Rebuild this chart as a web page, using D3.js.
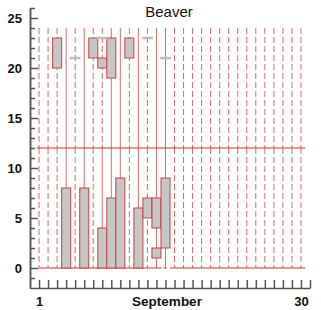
<!doctype html>
<html>
<head>
<meta charset="utf-8">
<script src="https://d3js.org/d3.v7.min.js"></script>
<style>
  body { margin: 0; background: #fff; }
  text { font-family: "Liberation Sans", Arial, sans-serif; }
</style>
</head>
<body>
<svg width="321" height="310"></svg>
<script>
// days of the month
var days = d3.range(1, 31);

// filled boxes: day, low, high
var boxDay  = [3, 7, 8, 9, 11, 4, 6, 8, 9, 10, 12, 13, 14, 14, 15];
var boxLow  = [20, 21, 20, 19, 21, 0, 0, 0, 0, 0, 0, 5, 4, 1, 2];
var boxHigh = [23, 23, 21, 23, 23, 8, 8, 4, 7, 9, 6, 7, 7, 2, 9];

// flat grey marks: day, value
var flatDay   = [5, 8, 13, 15];
var flatValue = [21, 23, 23, 21];

// days whose guide line is solid (upper half / lower half)
var solidUpper = [4, 6, 9, 10, 12, 14, 15];
var solidLower = [4, 6, 8, 9, 10, 12, 14, 15];

var lineTop = 24, noon = 12;
var yMajor = [0, 5, 10, 15, 20, 25];
var xLabels = [1, 30];

var svg = d3.select("svg");
var x = d3.scaleLinear().domain([0, 31]).range([30, 310]);
var y = d3.scaleLinear().domain([-2, 26]).range([288, 8]);

var red = "#cc3a3a";

// vertical guide lines, split at noon
var g = svg.append("g");
[[noon, lineTop, solidUpper], [0, noon, solidLower]].forEach(function(part) {
  g.selectAll(null).data(days).enter().append("line")
    .attr("x1", d => x(d)).attr("x2", d => x(d))
    .attr("y1", y(part[1])).attr("y2", y(part[0]))
    .attr("stroke", red).attr("stroke-opacity", 0.75)
    .attr("stroke-width", 1)
    .attr("stroke-dasharray", d => part[2].indexOf(d) >= 0 ? null : "6,3");
});

// horizontal reference lines
svg.append("line")
  .attr("x1", x(0.75)).attr("x2", x(30.45))
  .attr("y1", y(noon)).attr("y2", y(noon))
  .attr("stroke", red).attr("stroke-opacity", 0.7).attr("stroke-width", 1.5);

var baseSeg = [[0.95, 14.58], [14.76, 15.14], [15.5, 30.45]];
svg.selectAll(null).data(baseSeg).enter().append("line")
  .attr("x1", d => x(d[0])).attr("x2", d => x(d[1]))
  .attr("y1", y(0)).attr("y2", y(0))
  .attr("stroke", red).attr("stroke-opacity", 0.7).attr("stroke-width", 1.5);

// boxes
svg.selectAll(null).data(boxDay).enter().append("rect")
  .attr("x", d => x(d - 0.5))
  .attr("width", x(1) - x(0))
  .attr("y", (d, i) => y(boxHigh[i]))
  .attr("height", (d, i) => y(boxLow[i]) - y(boxHigh[i]))
  .attr("fill", "#c6c6c6")
  .attr("stroke", red).attr("stroke-opacity", 0.8).attr("stroke-width", 1.2);

// flat marks
svg.selectAll(null).data(flatDay).enter().append("line")
  .attr("x1", d => x(d - 0.6)).attr("x2", d => x(d + 0.6))
  .attr("y1", (d, i) => y(flatValue[i])).attr("y2", (d, i) => y(flatValue[i]))
  .attr("stroke", "#bdbdbd").attr("stroke-width", 2.5);

// axes
var yAxis = svg.append("g").attr("transform", "translate(30,0)")
  .call(d3.axisLeft(y).tickValues(yMajor).tickSize(-8).tickSizeOuter(0).tickPadding(8));
svg.append("g").attr("transform", "translate(30,0)")
  .call(d3.axisLeft(y).tickValues(d3.range(-1, 27).filter(v => v % 5 != 0))
    .tickSize(-5).tickSizeOuter(0).tickFormat(""));

var xAxis = svg.append("g").attr("transform", "translate(0,288)")
  .call(d3.axisBottom(x).tickValues(d3.range(1, 32)).tickSize(-8).tickSizeOuter(0)
    .tickPadding(9).tickFormat(d => xLabels.indexOf(d) >= 0 ? d : ""));

svg.selectAll(".domain, .tick line").attr("stroke", "#555").attr("stroke-width", 1.5);
svg.selectAll(".tick text").attr("fill", "#111")
  .style("font-size", "13px").style("font-weight", "bold")
  .style("font-family", "'Liberation Sans', Arial, sans-serif");

svg.append("text").attr("x", 167).attr("y", 306).attr("text-anchor", "middle")
  .style("font-size", "13.5px").style("font-weight", "bold").attr("fill", "#111")
  .text("September");

svg.append("text").attr("x", 169).attr("y", 17).attr("text-anchor", "middle")
  .style("font-size", "15px").attr("fill", "#111")
  .text("Beaver");
</script>
</body>
</html>
